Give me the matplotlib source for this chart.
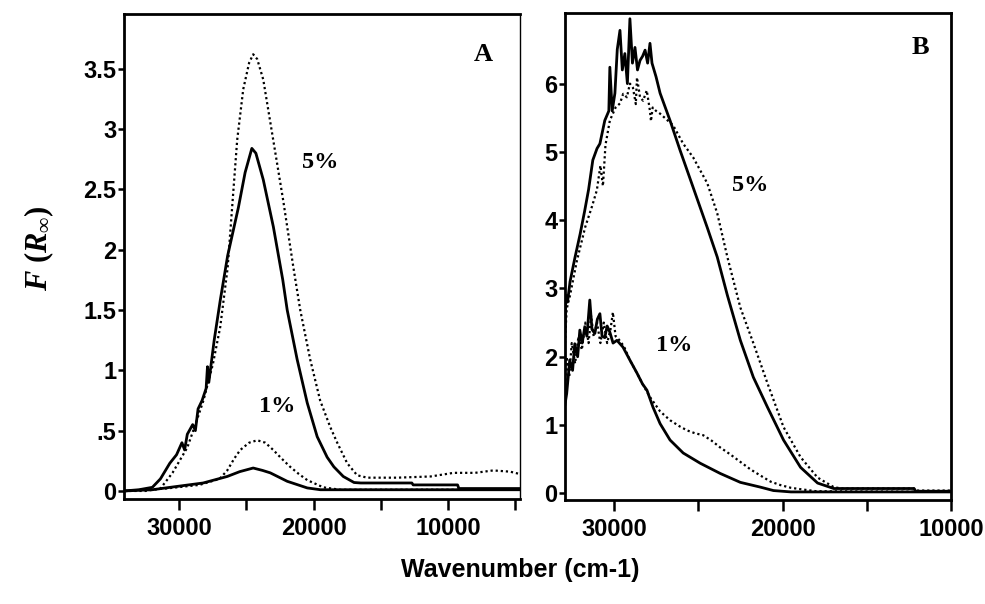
import matplotlib
matplotlib.use('Agg')
import matplotlib.pyplot as plt

plt.rcParams['font.family'] = ['Liberation Sans', 'DejaVu Sans']
plt.rcParams['mathtext.fontset'] = 'custom'
plt.rcParams['mathtext.rm'] = 'Liberation Serif:bold'
plt.rcParams['mathtext.it'] = 'Liberation Serif:bold:italic'
plt.rcParams['mathtext.bf'] = 'Liberation Serif:bold'

# ---- panel A (wavenumber, F(R)) ----
a5s_x = [34100, 33000, 32000, 31400, 30700, 30200, 29800, 29600, 29400, 29000, 28800, 28600, 28300,
         28000, 27900, 27800, 27400, 26950, 26400, 25600, 25100, 24600, 24300, 23750, 23000, 22300,
         21970, 21230, 20480, 19740, 19000, 18500, 17800, 17000, 16500, 12700, 12600, 9300, 9200, 4650]
a5s_y = [0.0, 0.01, 0.03, 0.10, 0.23, 0.30, 0.40, 0.34, 0.47, 0.55, 0.50, 0.68, 0.75,
         0.85, 1.03, 0.90, 1.25, 1.58, 1.95, 2.35, 2.64, 2.84, 2.80, 2.58, 2.19, 1.75,
         1.50, 1.09, 0.73, 0.45, 0.28, 0.20, 0.12, 0.07, 0.066, 0.066, 0.05, 0.05, 0.02, 0.02]

a5d_x = [34100, 32500, 31400, 30500, 29400, 28800, 28200, 27500, 26950, 26400, 26060, 25690, 25240,
         24800, 24500, 24200, 23750, 23010, 22270, 21520, 21000, 20260, 19520, 18770, 18250, 17510,
         16770, 16020, 13800, 11300, 9600, 8000, 6650, 5400, 4650]
a5d_y = [0.0, 0.0, 0.02, 0.15, 0.36, 0.55, 0.75, 1.05, 1.36, 1.85, 2.36, 2.91, 3.33,
         3.55, 3.62, 3.58, 3.41, 2.91, 2.41, 1.86, 1.50, 1.09, 0.75, 0.53, 0.40, 0.23,
         0.13, 0.11, 0.11, 0.12, 0.15, 0.15, 0.17, 0.16, 0.14]

a1d_x = [34100, 31000, 28500, 27000, 26430, 25900, 25460, 24800, 24200, 23600, 23010, 22400,
         21750, 21100, 20480, 19290, 18030, 4650]
a1d_y = [0.0, 0.02, 0.05, 0.10, 0.17, 0.27, 0.34, 0.40, 0.42, 0.40, 0.34, 0.27,
         0.20, 0.14, 0.09, 0.03, 0.01, 0.01]

a1s_x = [34100, 32000, 30670, 28220, 26430, 25500, 24500, 23800, 23230, 21970, 20480, 19500, 4650]
a1s_y = [0.0, 0.01, 0.03, 0.066, 0.12, 0.16, 0.19, 0.17, 0.15, 0.08, 0.025, 0.01, 0.01]

# ---- panel B ----
b5s_x = [32900, 32850, 32750, 32600, 32320, 32000, 31730, 31500, 31250, 31000, 30830, 30540, 30300,
         30240, 30100, 29940, 29800, 29640, 29500, 29350, 29200, 29050, 28900, 28750, 28600, 28450,
         28300, 28150, 28000, 27860, 27740, 27500, 27260, 26670, 26070, 25300, 24460, 23870, 23270,
         22500, 21730, 20890, 19940, 18930, 17920, 16960, 16500, 12200, 12100, 10000]
b5s_y = [2.4, 2.9, 2.8, 3.1, 3.44, 3.8, 4.14, 4.45, 4.88, 5.05, 5.12, 5.46, 5.6,
         6.24, 5.6, 5.86, 6.5, 6.78, 6.2, 6.44, 6.0, 6.95, 6.3, 6.53, 6.2, 6.34,
         6.4, 6.49, 6.3, 6.59, 6.30, 6.1, 5.86, 5.46, 5.02, 4.48, 3.89, 3.46, 2.9,
         2.24, 1.70, 1.26, 0.78, 0.38, 0.15, 0.07, 0.07, 0.07, 0.03, 0.03]

b5d_x = [32900, 32800, 32600, 32200, 31700, 31300, 31010, 30800, 30650, 30500, 30240, 29900, 29640,
         29450, 29230, 29050, 28870, 28700, 28630, 28450, 28270, 28050, 27860, 27800, 27700, 27500,
         27260, 26900, 26490, 25890, 25300, 24460, 23870, 23270, 22500, 21730, 20890, 19940, 18930,
         17920, 16960, 16500, 12200, 12100, 10000]
b5d_y = [2.2, 2.7, 2.9, 3.4, 3.9, 4.2, 4.44, 4.8, 4.5, 5.1, 5.46, 5.65, 5.71,
         5.85, 5.80, 6.0, 5.94, 5.7, 6.09, 5.8, 5.75, 5.9, 5.6, 5.45, 5.65, 5.6,
         5.56, 5.48, 5.39, 5.12, 4.92, 4.54, 4.10, 3.46, 2.72, 2.20, 1.61, 0.97, 0.53,
         0.23, 0.09, 0.07, 0.07, 0.04, 0.04]

b1s_x = [32900, 32800, 32620, 32450, 32320, 32150, 32020, 31880, 31730, 31600, 31430, 31300, 31130,
         30980, 30830, 30700, 30540, 30400, 30240, 30050, 29820, 29460, 29050, 28630, 28300, 28040,
         27680, 27260, 26670, 25890, 24880, 23690, 22500, 21310, 20540, 19500, 10000]
b1s_y = [1.3, 1.46, 1.95, 1.8, 2.19, 2.0, 2.39, 2.2, 2.43, 2.3, 2.83, 2.4, 2.34,
         2.55, 2.63, 2.3, 2.28, 2.45, 2.36, 2.2, 2.24, 2.14, 1.95, 1.76, 1.6, 1.51,
         1.26, 1.02, 0.78, 0.59, 0.44, 0.29, 0.16, 0.09, 0.04, 0.02, 0.02]

b1d_x = [32900, 32800, 32650, 32500, 32300, 32100, 31900, 31700, 31500, 31350, 31200, 31000, 30800,
         30600, 30400, 30200, 30060, 29900, 29700, 29400, 29050, 28630, 28300, 27860, 27260, 26670,
         26100, 25650, 25200, 24700, 24200, 23690, 23100, 22500, 21900, 21310, 20700, 20120, 19500,
         18930, 18000, 10000]
b1d_y = [1.5, 2.0, 1.7, 2.2, 1.9, 2.3, 2.1, 2.5, 2.2, 2.6, 2.3, 2.5, 2.2,
         2.5, 2.2, 2.4, 2.65, 2.3, 2.25, 2.15, 1.95, 1.76, 1.6, 1.41, 1.2, 1.07,
         0.98, 0.92, 0.88, 0.85, 0.77, 0.67, 0.57, 0.46, 0.35, 0.26, 0.17, 0.12, 0.08,
         0.06, 0.03, 0.02]

a_yticks = [0, 0.5, 1, 1.5, 2, 2.5, 3, 3.5]
a_ylabels = ['0', '.5', '1', '1.5', '2', '2.5', '3', '3.5']
b_yticks = [0, 1, 2, 3, 4, 5, 6]

solid = dict(color='black', lw=2.0, ls='-')
dots = dict(color='black', lw=1.6, ls=(0, (1, 1.3)))
tickfont = dict(fontsize=17, fontweight='bold')
notefont = dict(fontsize=17.5, fontweight='bold', family='Liberation Serif', ha='center', va='center')

fig = plt.figure(figsize=(9.85, 6.04), dpi=100)
axA = fig.add_axes([0.126, 0.174, 0.402, 0.803])
axB = fig.add_axes([0.5736, 0.172, 0.392, 0.806])

axA.plot(a5d_x, a5d_y, **dots)
axA.plot(a5s_x, a5s_y, **solid)
axA.plot(a1d_x, a1d_y, **dots)
axA.plot(a1s_x, a1s_y, **solid)
axA.set_xlim(34100, 4650)
axA.set_ylim(-0.066, 3.955)
axA.set_yticks(a_yticks)
axA.set_yticklabels(a_ylabels, **tickfont)
axA.set_xticks([30000, 25000, 20000, 15000, 10000, 5000])
axA.set_xticklabels(['30000', '', '20000', '', '10000', ''], **tickfont)
axA.text(7400, 3.62, 'A', fontsize=19, fontweight='bold', family='Liberation Serif', ha='center', va='center')
axA.text(19520, 2.72, '5%', **notefont)
axA.text(22710, 0.70, '1%', **notefont)

axB.plot(b5d_x, b5d_y, **dots)
axB.plot(b5s_x, b5s_y, **solid)
axB.plot(b1d_x, b1d_y, **dots)
axB.plot(b1s_x, b1s_y, **solid)
axB.set_xlim(32900, 10000)
axB.set_ylim(-0.1, 7.03)
axB.set_yticks(b_yticks)
axB.set_yticklabels([str(v) for v in b_yticks], **tickfont)
axB.set_xticks([30000, 25000, 20000, 15000, 10000])
axB.set_xticklabels(['30000', '', '20000', '', '10000'], **tickfont)
axB.text(11790, 6.53, 'B', fontsize=19, fontweight='bold', family='Liberation Serif', ha='center', va='center')
axB.text(21900, 4.51, '5%', **notefont)
axB.text(26430, 2.17, '1%', **notefont)

for ax in (axA, axB):
    for s in ax.spines.values():
        s.set_linewidth(2.0)
    ax.tick_params(axis='x', direction='out', length=8, width=1.8, pad=5)
    ax.tick_params(axis='y', direction='out', length=4.5, width=1.8, pad=1)
axA.spines['right'].set_linewidth(1.0)

fig.text(0.04, 0.589, r'$F\ (R_{\infty})$', rotation=90, fontsize=22, ha='center', va='center')
fig.text(0.528, 0.056, 'Wavenumber (cm-1)', fontsize=18, fontweight='bold', ha='center', va='center')

fig.savefig('out.png', dpi=100)
